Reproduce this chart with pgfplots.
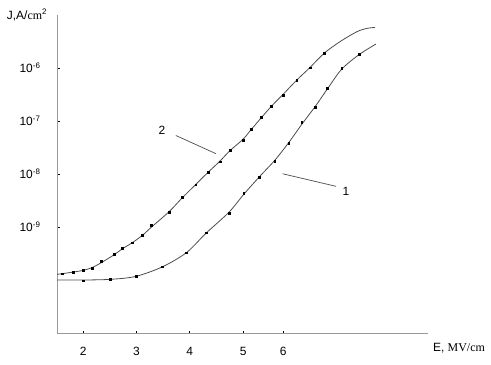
\documentclass[border=0pt]{standalone}
\usepackage{fontspec}
\setmainfont{Liberation Sans}
\newfontfamily\serif{Liberation Serif}
\usepackage{pgfplots}
\pgfplotsset{compat=1.18}
\begin{document}
\begin{tikzpicture}[x=1bp,y=1bp]
\begin{axis}[
  at={(0,0)}, anchor=south west,
  scale only axis, width=371bp, height=318bp,
  xmin=1.51, xmax=8.467, ymode=log, ymin=1e-11, ymax=1e-5,
  axis x line*=bottom, axis y line*=left,
  xtick={2,3,4,5,5.75}, xticklabels={2,3,4,5,6},
  ytick={1e-9,1e-8,1e-7,1e-6},
  yticklabels={10\textsuperscript{-9},10\textsuperscript{-8},10\textsuperscript{-7},10\textsuperscript{-6}},
  yminorticks=false, xminorticks=false,
  tick align=inside, major tick length=2.5bp,
  tick style={black, line width=0.6bp},
  axis line style={black!40, line width=1bp},
  ticklabel style={font=\fontsize{12}{14}\selectfont},
  yticklabel style={xshift=-13bp},
  xticklabel style={yshift=-11bp},
  clip=false,
]
% curve 2 line
\addplot[smooth, black!70, line width=0.8bp] coordinates {
(1.51,1.28e-10) (1.614,1.32e-10) (1.812,1.41e-10) (2.0,1.52e-10) (2.169,1.72e-10)
(2.332,2.1e-10) (2.582,3.0e-10) (2.739,3.9e-10) (2.927,5.1e-10) (3.114,7.0e-10)
(3.283,1.0e-9) (3.613,1.95e-9) (3.852,3.5e-9) (4.109,6.3e-9) (4.34,1.07e-8)
(4.565,1.75e-8) (4.752,2.75e-8) (4.996,4.5e-8) (5.146,6.8e-8) (5.34,1.15e-7)
(5.531,1.9e-7) (5.752,3.2e-7) (6.004,5.9e-7) (6.253,1.02e-6) (6.52,1.9e-6)
(6.814,3.13e-6) (7.13,4.82e-6) (7.317,5.58e-6) (7.473,5.83e-6)};
% curve 2 marks
\addplot[only marks, mark=square*, mark size=0.9bp, black] coordinates {
(1.614,1.32e-10) (1.812,1.41e-10) (2.0,1.52e-10) (2.169,1.68e-10)
(2.332,2.27e-10) (2.582,3.04e-10) (2.739,4.0e-10) (2.927,5.05e-10) (3.114,7.0e-10)
(3.283,1.10e-9) (3.613,1.90e-9) (3.852,3.7e-9) (4.109,6.3e-9) (4.34,1.07e-8)
(4.565,1.71e-8) (4.752,2.78e-8) (4.996,4.3e-8) (5.146,7.0e-8) (5.34,1.18e-7)
(5.531,1.90e-7) (5.752,3.1e-7) (6.004,5.94e-7) (6.253,1.01e-6) (6.52,1.91e-6)};
% curve 1 line
\addplot[smooth, black!70, line width=0.8bp] coordinates {
(1.51,1.0e-10) (2.0,1.0e-10) (2.514,1.03e-10) (2.989,1.17e-10) (3.49,1.78e-10)
(3.94,3.3e-10) (4.302,7.6e-10) (4.734,1.9e-9) (5.009,4.1e-9) (5.302,8.8e-9)
(5.591,1.8e-8) (5.854,3.9e-8) (6.098,8.6e-8) (6.347,1.85e-7) (6.578,4.0e-7)
(6.848,9.5e-7) (7.178,1.80e-6) (7.49,2.83e-6)};
% curve 1 marks
\addplot[only marks, mark=square*, mark size=0.9bp, black] coordinates {
(2.0,9.7e-11) (2.514,1.03e-10) (2.989,1.19e-10) (3.49,1.78e-10)
(3.94,3.27e-10) (4.302,7.8e-10) (4.734,1.85e-9) (5.009,4.27e-9) (5.302,8.8e-9)
(5.591,1.73e-8) (5.854,3.84e-8) (6.098,9.5e-8) (6.347,1.81e-7) (6.578,4.15e-7)
(6.848,9.8e-7) (7.178,1.80e-6)};
% annotations
\draw[black!70, line width=0.7bp] (axis cs:3.739,5.33e-8) -- (axis cs:4.49,2.42e-8);
\node[font=\fontsize{12}{14}\selectfont] at (axis cs:3.477,6.8e-8) {2};
\draw[black!70, line width=0.7bp] (axis cs:5.741,1.01e-8) -- (axis cs:6.741,5.86e-9);
\node[font=\fontsize{12}{14}\selectfont] at (axis cs:6.929,4.66e-9) {1};
\end{axis}
\node[font=\fontsize{12}{14}\selectfont, inner sep=0pt] at (-30,318) {J,A/{\serif cm}\textsuperscript{2}};
\node[font=\fontsize{12}{14}\selectfont, inner sep=0pt] at (402,-15) {E, {\serif MV/cm}};
\pgfresetboundingbox
\path (-57,-31) rectangle (434,333);
\end{tikzpicture}
\end{document}
